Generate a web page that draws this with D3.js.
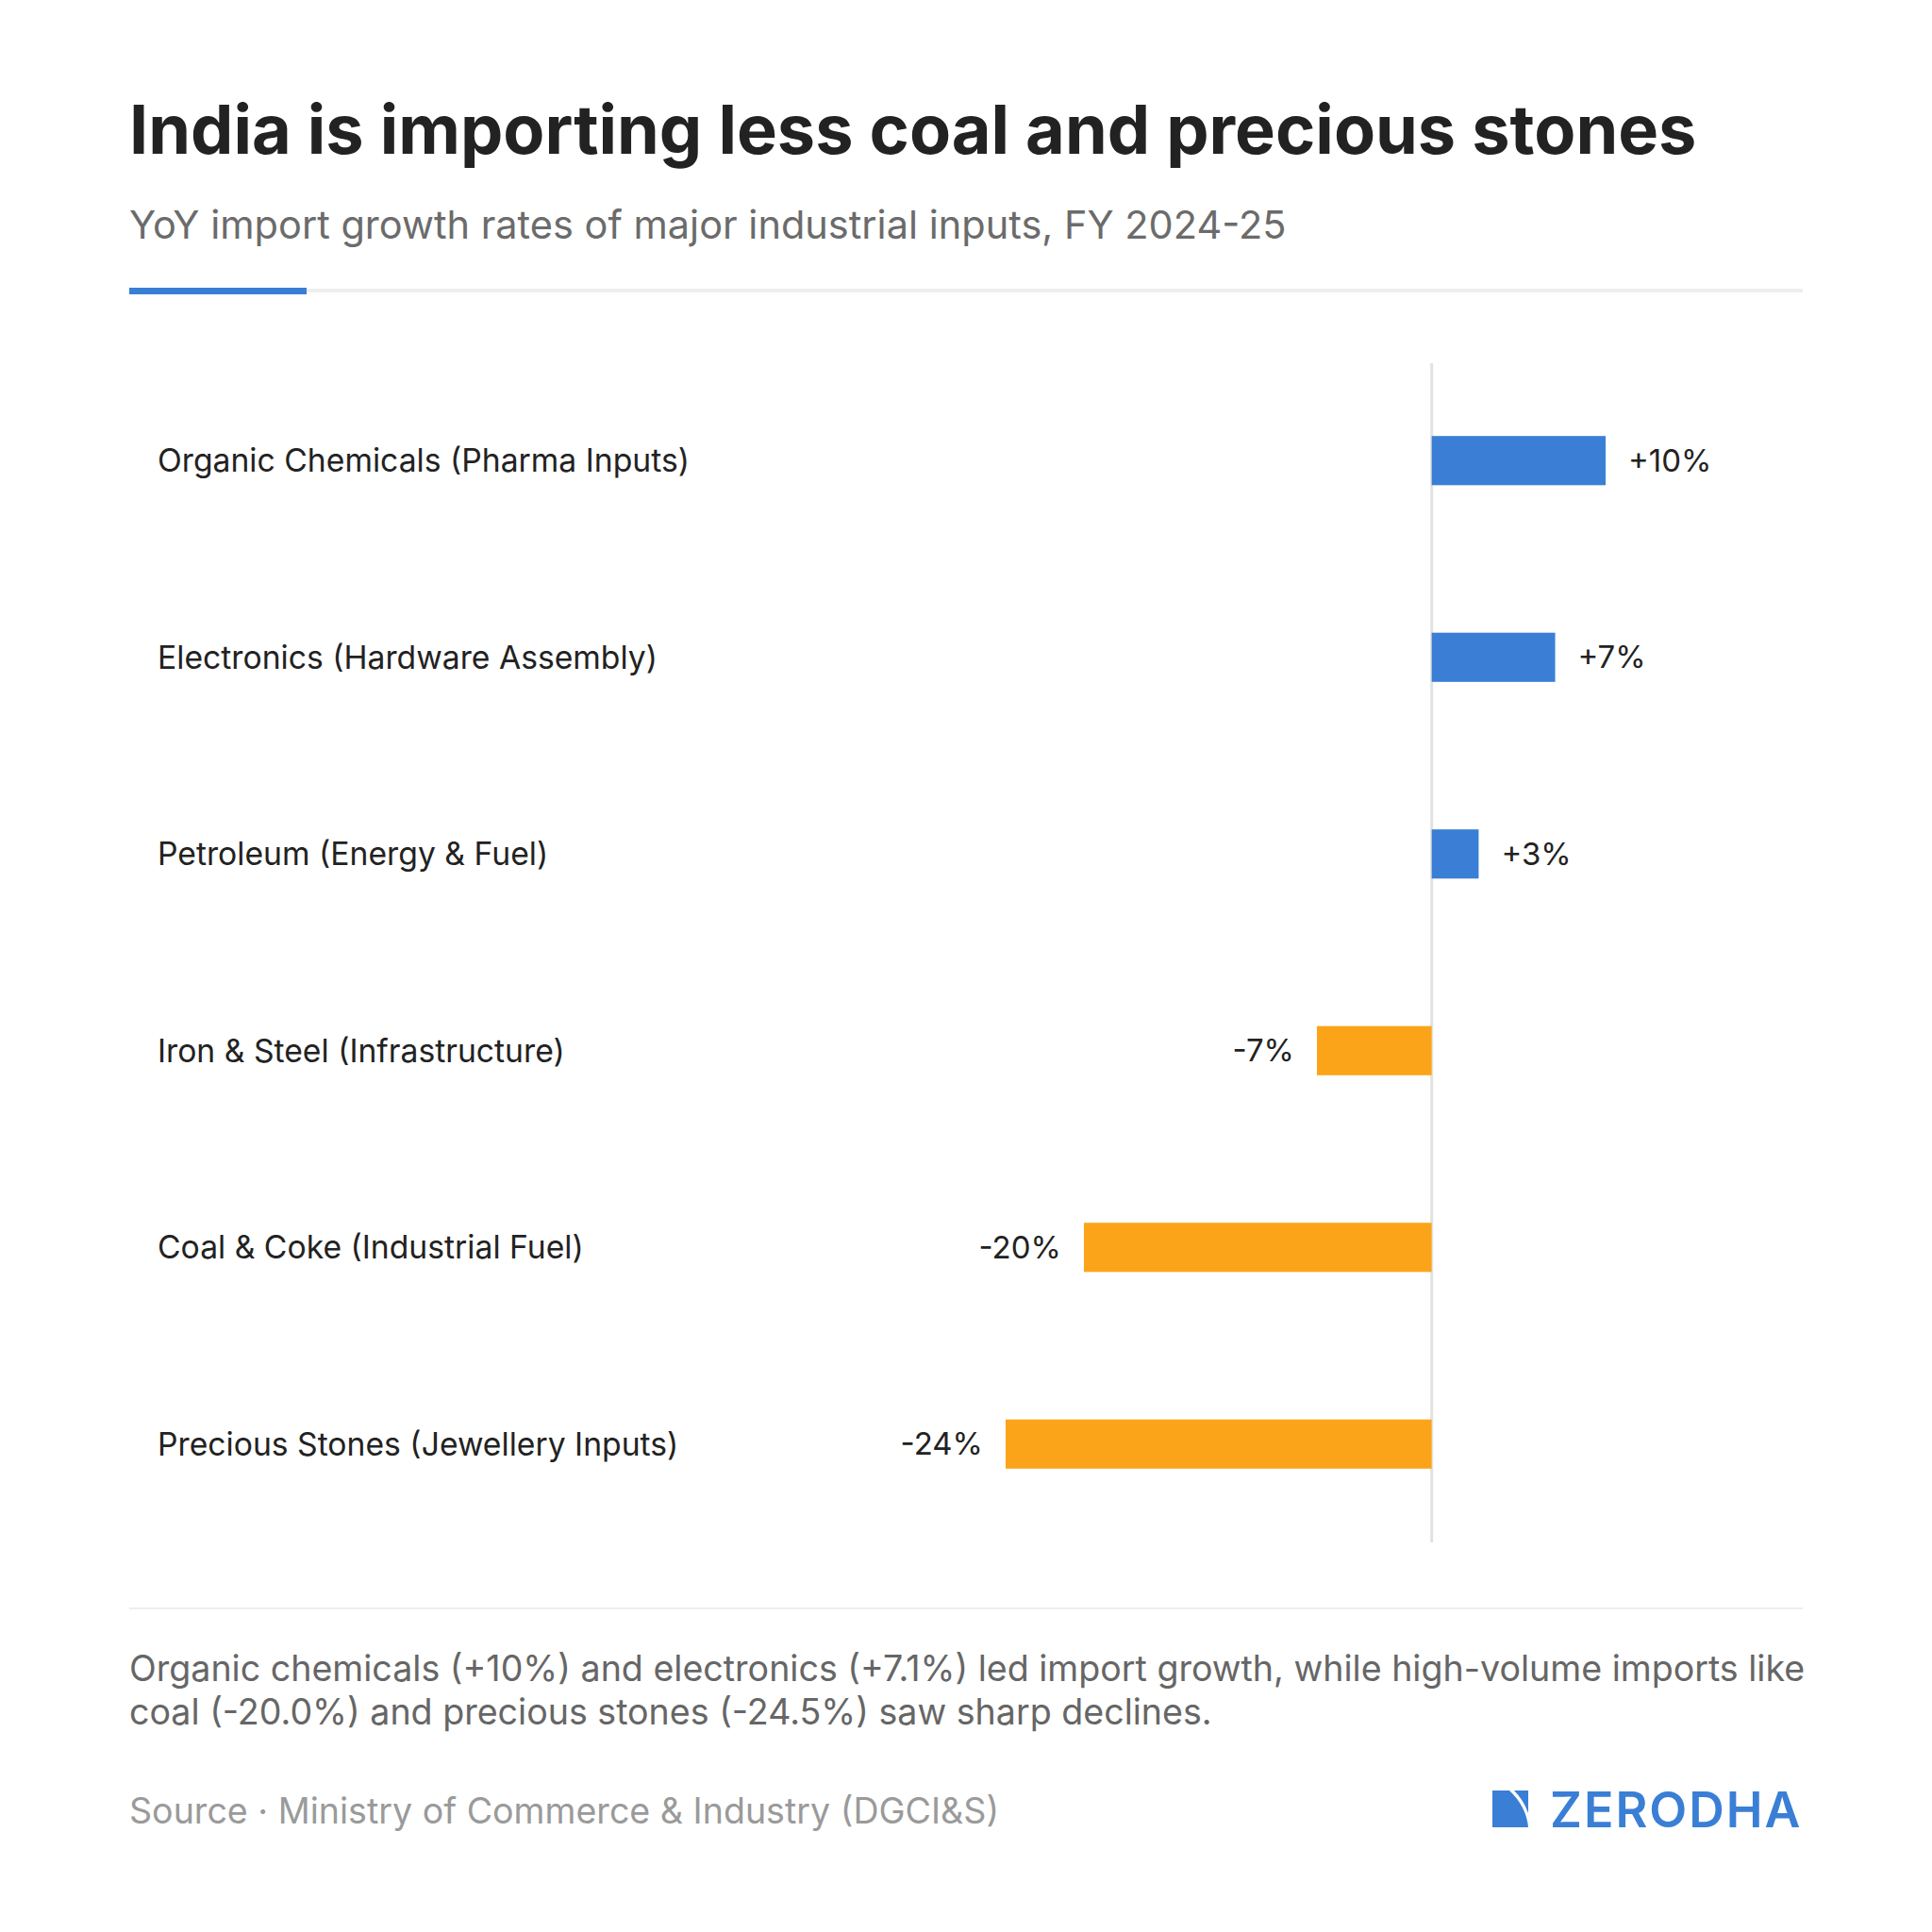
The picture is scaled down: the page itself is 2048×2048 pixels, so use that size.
<!DOCTYPE html>
<html><head><meta charset="utf-8">
<script src="https://cdn.jsdelivr.net/npm/d3@7"></script>
<style>body{margin:0;background:#fff}</style>
</head><body><svg id="c" width="2048" height="2048"></svg>
<script>
var categories = ["Organic Chemicals (Pharma Inputs)","Electronics (Hardware Assembly)","Petroleum (Energy & Fuel)","Iron & Steel (Infrastructure)","Coal & Coke (Industrial Fuel)","Precious Stones (Jewellery Inputs)"]
var values = [10, 7.1, 2.7, -6.6, -20, -24.5]
var valueLabels = ["+10%","+7%","+3%","-7%","-20%","-24%"]

var svg = d3.select("#c")
var font = "Inter, 'Noto Sans', sans-serif"

svg.append("text").attr("x",137).attr("y",163).attr("font-family",font).attr("font-weight",700)
  .attr("font-size",72).attr("fill","#222").text("India is importing less coal and precious stones")
svg.append("text").attr("x",137).attr("y",253).attr("font-family",font)
  .attr("font-size",41.5).attr("fill","#6b6b6b").text("YoY import growth rates of major industrial inputs, FY 2024-25")
svg.append("rect").attr("x",137).attr("y",306).attr("width",1774).attr("height",4).attr("fill","#eeeeee")
svg.append("rect").attr("x",137).attr("y",305).attr("width",188).attr("height",7).attr("fill","#3a7fd5")

var x = d3.scaleLinear().domain([-24.5,10]).range([1066,1702])
var y = d3.scaleBand().domain(categories).range([384,1635]).paddingInner(0.75).paddingOuter(0.375)

svg.append("line").attr("x1",x(0)).attr("x2",x(0)).attr("y1",385).attr("y2",1635)
  .attr("stroke","#e2e2e2").attr("stroke-width",3)

var rows = svg.selectAll("g.row").data(categories).enter().append("g")

rows.append("text").attr("x",167).attr("y",function(d){return y(d)+y.bandwidth()/2})
  .attr("dy","0.35em").attr("font-family",font).attr("font-size",33.7).attr("fill","#222")
  .text(function(d){return d})

rows.append("rect")
  .attr("x",function(d,i){return x(Math.min(0,values[i]))})
  .attr("width",function(d,i){return Math.abs(x(values[i])-x(0))})
  .attr("y",function(d){return y(d)}).attr("height",y.bandwidth())
  .attr("fill",function(d,i){return values[i]>=0?"#3a7fd5":"#fca419"})

rows.append("text")
  .attr("x",function(d,i){return values[i]>=0?x(values[i])+24:x(values[i])-24})
  .attr("text-anchor",function(d,i){return values[i]>=0?"start":"end"})
  .attr("y",function(d){return y(d)+y.bandwidth()/2}).attr("dy","0.35em")
  .attr("font-family",font).attr("font-size",33).attr("fill","#222")
  .text(function(d,i){return valueLabels[i]})

svg.append("rect").attr("x",137).attr("y",1704).attr("width",1774).attr("height",2).attr("fill","#eeeeee")
var note = ["Organic chemicals (+10%) and electronics (+7.1%) led import growth, while high-volume imports like","coal (-20.0%) and precious stones (-24.5%) saw sharp declines."]
svg.selectAll("text.note").data(note).enter().append("text").attr("x",137)
  .attr("y",function(d,i){return 1782+i*46}).attr("font-family",font).attr("font-size",37.6).attr("fill","#666")
  .text(function(d){return d})
svg.append("text").attr("x",137).attr("y",1933).attr("font-family",font).attr("font-size",37.6)
  .attr("fill","#9a9a9a").text("Source · Ministry of Commerce & Industry (DGCI&S)")

svg.append("path").attr("d","M1582,1898 L1600,1898 Q1618,1915 1620,1937 L1582,1937 Z").attr("fill","#3a7fd5")
svg.append("path").attr("d","M1605,1898 L1620,1898 L1620,1922 Q1615,1908 1605,1898 Z").attr("fill","#3a7fd5")
svg.append("text").attr("x",1643).attr("y",1937).attr("font-family",font).attr("font-size",52)
  .attr("font-weight",600).attr("letter-spacing",2).attr("fill","#3a7fd5").text("ZERODHA")
</script></body></html>
